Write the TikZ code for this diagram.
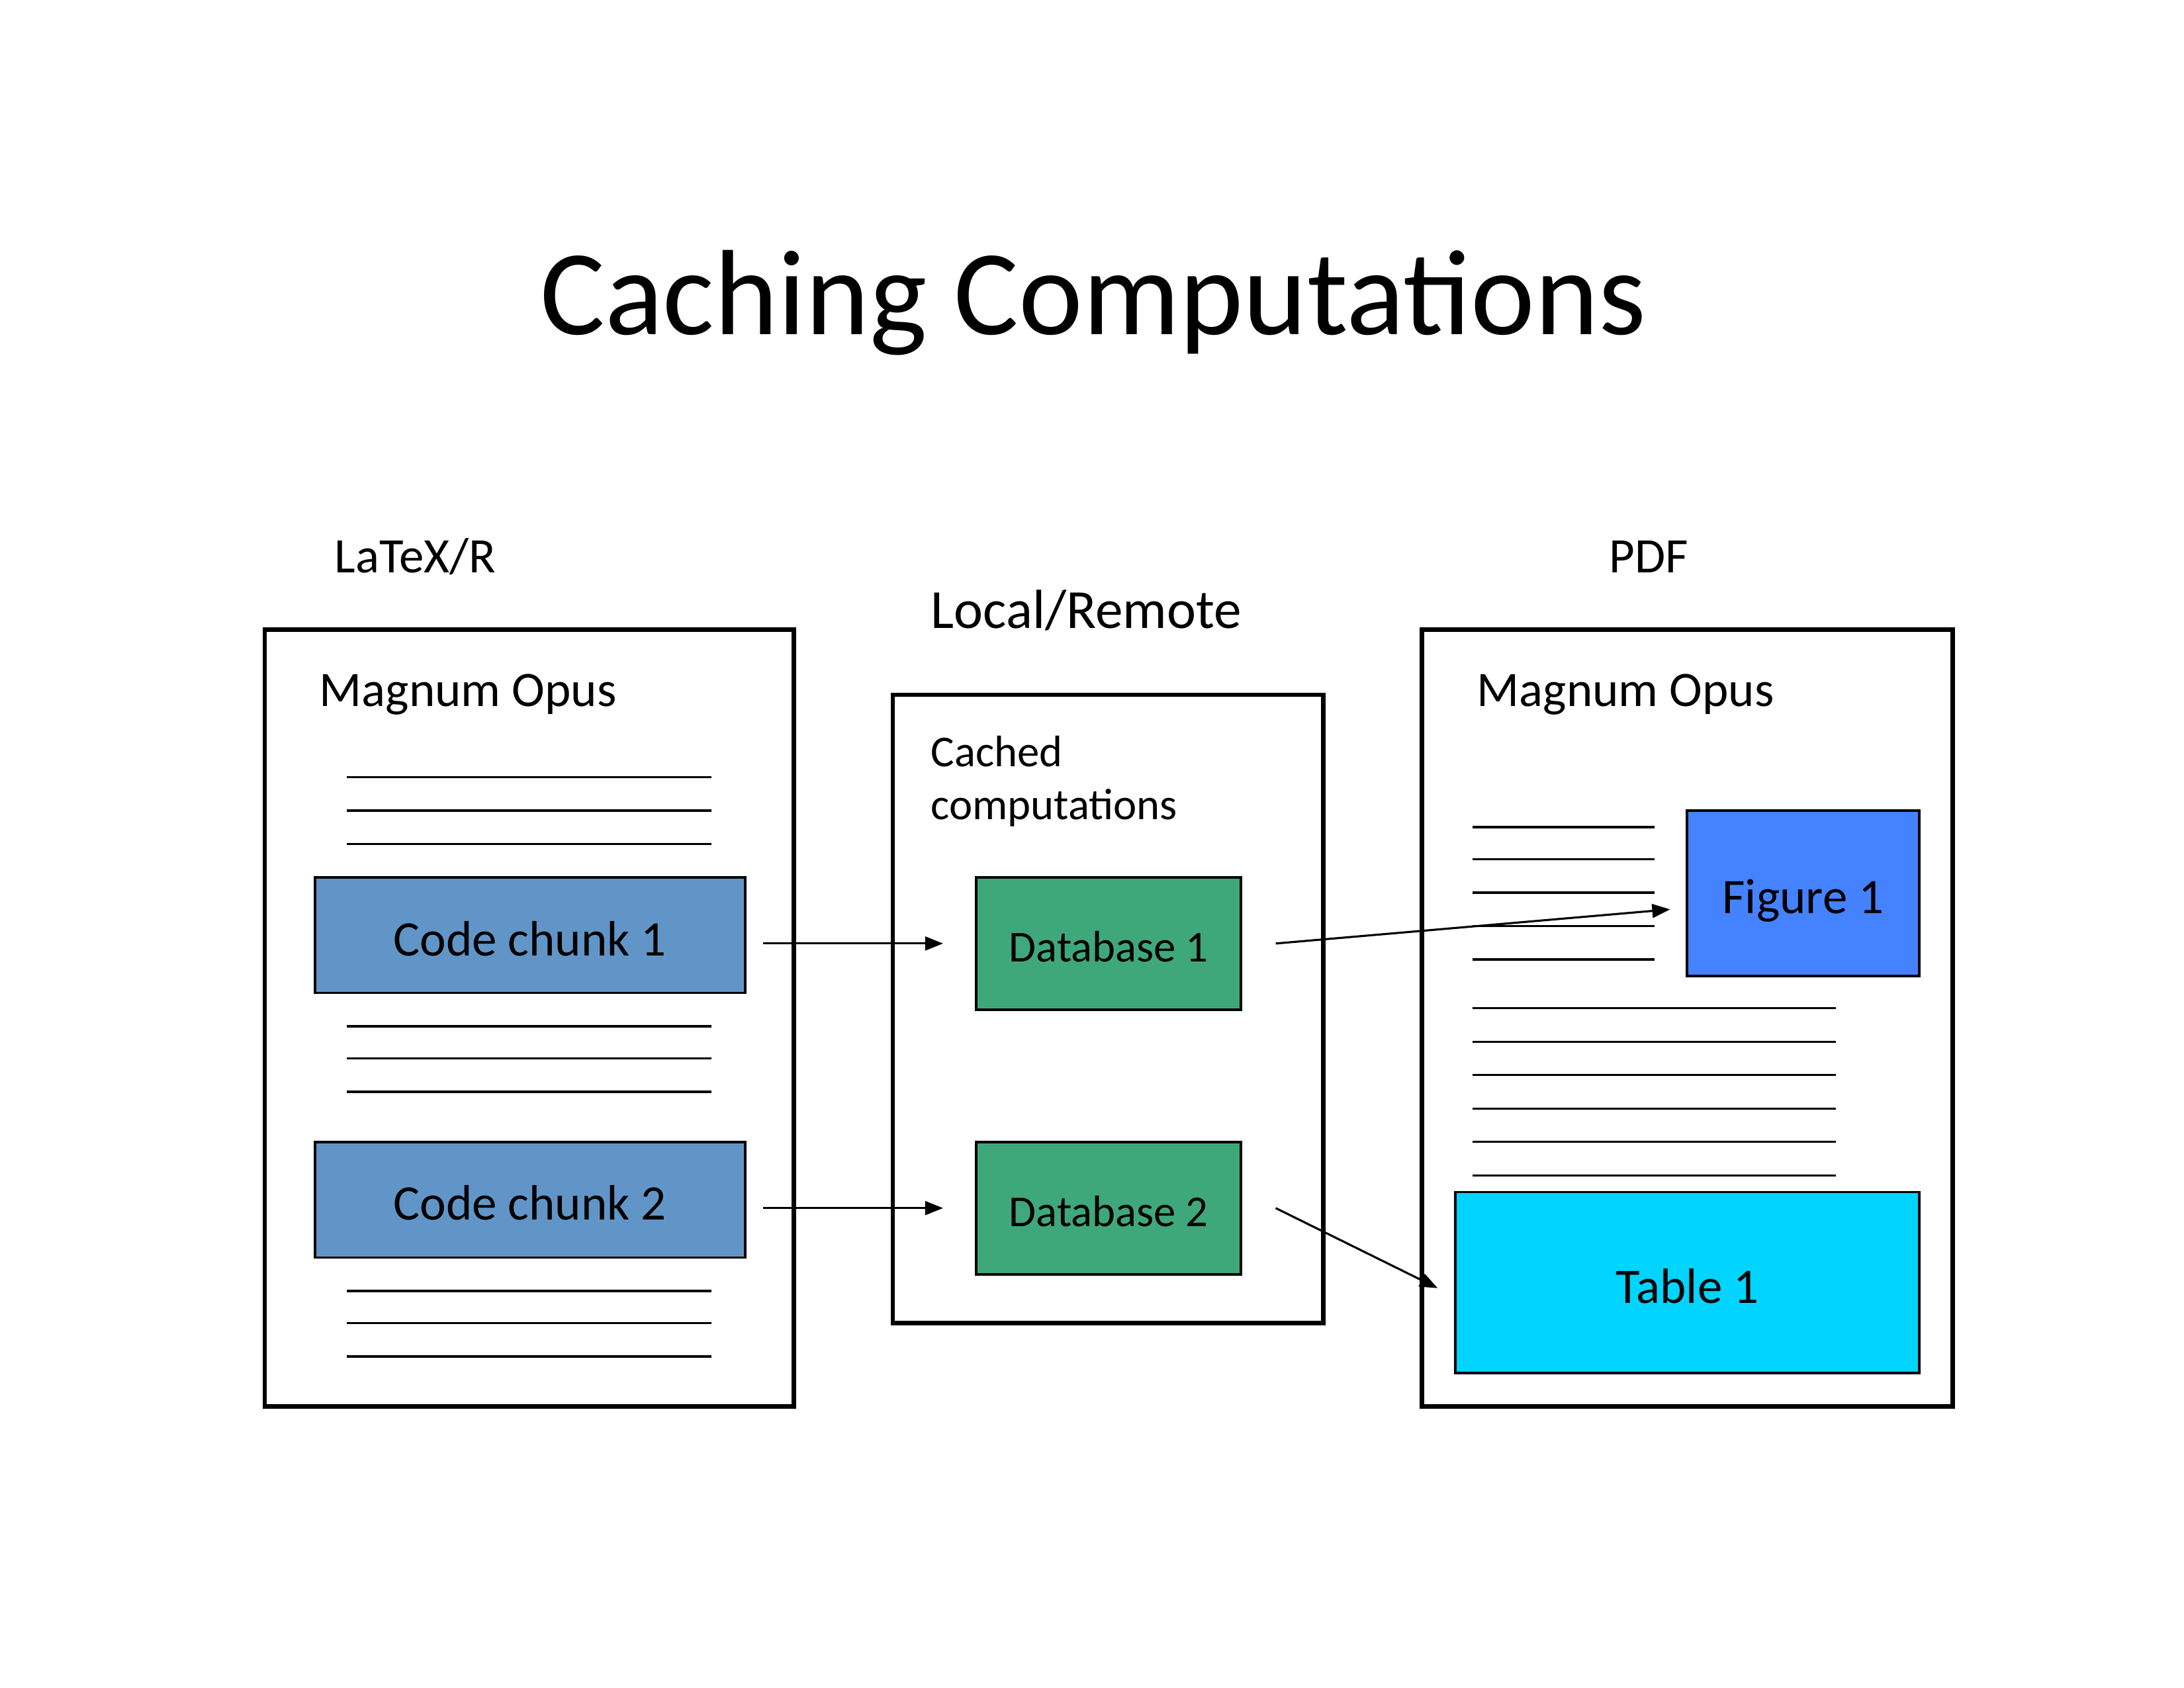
\documentclass[tikz,border=0pt]{standalone}
\usepackage{fontspec}
\setmainfont{Carlito}
\usetikzlibrary{arrows.meta,calc}
\definecolor{chunkblue}{RGB}{97,149,199}
\definecolor{dbgreen}{RGB}{63,168,122}
\definecolor{figblue}{RGB}{69,130,255}
\definecolor{tabcyan}{RGB}{0,212,255}
\tikzset{
  pagebox/.style={draw, line width=1.6pt, inner sep=0pt, fill=white},
  block/.style={draw, line width=0.9pt, inner sep=0pt, text height=17.1pt, text depth=2.3pt, font=\fontsize{18}{21.6}\selectfont},
  dbblock/.style={block, fill=dbgreen, minimum width=96pt, minimum height=48pt, text height=15.2pt, text depth=2.1pt, font=\fontsize{16}{19.2}\selectfont},
  chunkblock/.style={block, fill=chunkblue, minimum width=156pt, minimum height=41.9pt},
  txtline/.style={line width=0.8pt},
  conn/.style={-{Triangle[length=6.5pt,width=5pt]}, line width=0.75pt},
  lbl/.style={inner sep=0pt, anchor=base west, font=\fontsize{18}{21.6}\selectfont}
}
\begin{document}
\begin{tikzpicture}[x=0.505pt,y=-0.505pt]
\useasboundingbox (0,0) rectangle (1568,1212);

% title
\node[inner sep=0pt, anchor=base, font=\fontsize{44}{52.8}\selectfont] (title) at (785,240) {Caching Computations};

% column headings
\node[lbl] (hleft) at (240,411) {LaTeX/R};
\node[lbl] (hright) at (1155,411) {PDF};
\node[lbl, font=\fontsize{20}{24}\selectfont] (hmid) at (668,451) {Local/Remote};

% page boxes
\node[pagebox, minimum width=191.9pt, minimum height=281.8pt] (src) at (380,731) {};
\node[pagebox, minimum width=156pt, minimum height=227.8pt] (cache) at (795.5,724.5) {};
\node[pagebox, minimum width=192.4pt, minimum height=281.8pt] (pdf) at (1211.5,731) {};

\node[lbl] (srctitle) at (229,507) {Magnum Opus};
\node[lbl] (pdftitle) at (1060,507) {Magnum Opus};
\node[inner sep=0pt, anchor=north west, align=left, font=\fontsize{16}{19.2}\selectfont] (cachetitle) at (668,528) {Cached\\computations};

% text lines in source
\foreach \y in {558,582,606,737,760,784,927,950,974}
  \draw[txtline] (249,\y) -- (511,\y);
% text lines in pdf
\foreach \y in {594,617,641,665,689}
  \draw[txtline] (1057,\y) -- (1188,\y);
\foreach \y in {724,748,772,796,820,844}
  \draw[txtline] (1057,\y) -- (1318,\y);

% inner blocks
\node[chunkblock] (cc1) at (380.5,671.5) {Code chunk 1};
\node[chunkblock] (cc2) at (380.5,861.5) {Code chunk 2};
\node[dbblock] (db1) at (796,677.5) {Database 1};
\node[dbblock] (db2) at (796,867.5) {Database 2};
\node[block, fill=figblue, minimum width=84.3pt, minimum height=60.1pt] (fig) at (1294.5,641.5) {Figure 1};
\node[block, fill=tabcyan, minimum width=168.2pt, minimum height=65.7pt] (tab) at (1211.5,921) {Table 1};

% connectors
\draw[conn, shorten <=6pt, shorten >=11.6pt] (cc1.east |- db1.west) -- (db1.west);
\draw[conn, shorten <=6pt, shorten >=11.6pt] (cc2.east |- db2.west) -- (db2.west);
\draw[conn] ([xshift=12.1pt]db1.east) -- ([xshift=-5.6pt,yshift=-5.8pt]fig.west);
\draw[conn] ([xshift=12.1pt]db2.east) -- ([xshift=-6pt,yshift=-2pt]tab.west);
\end{tikzpicture}
\end{document}
